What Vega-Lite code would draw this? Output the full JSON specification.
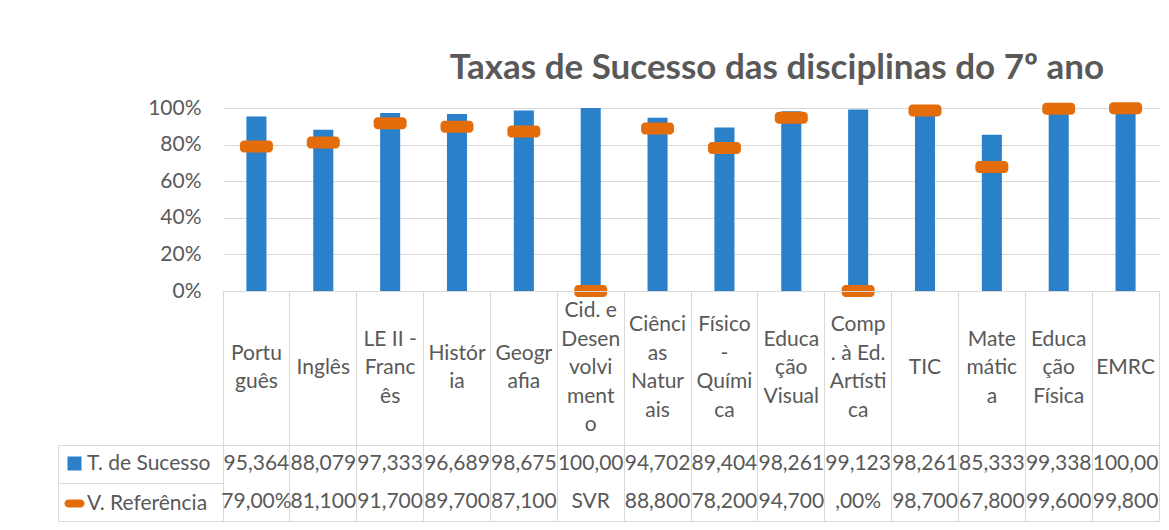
{
  "$schema": "https://vega.github.io/schema/vega-lite/v6.json",
  "padding": {"left": 57, "top": 51, "right": 5, "bottom": 5},
  "background": "white",
  "config": {"font": "Lato", "view": {"stroke": "#d9d9d9", "strokeWidth": 1}},
  "datasets": {
    "disc": [
      {"cat": "Português", "rotulo": "Portu\nguês", "suc": 95.364, "ref": 79.0, "suc_txt": "95,364", "ref_txt": "79,00%"},
      {"cat": "Inglês", "rotulo": "Inglês", "suc": 88.079, "ref": 81.1, "suc_txt": "88,079", "ref_txt": "81,100"},
      {"cat": "LE II - Francês", "rotulo": "LE II -\nFranc\nês", "suc": 97.333, "ref": 91.7, "suc_txt": "97,333", "ref_txt": "91,700"},
      {"cat": "História", "rotulo": "Histór\nia", "suc": 96.689, "ref": 89.7, "suc_txt": "96,689", "ref_txt": "89,700"},
      {"cat": "Geografia", "rotulo": "Geogr\nafia", "suc": 98.675, "ref": 87.1, "suc_txt": "98,675", "ref_txt": "87,100"},
      {"cat": "Cid. e Desenvolvimento", "rotulo": "Cid. e\nDesen\nvolvi\nment\no", "suc": 100.0, "ref": 0, "suc_txt": "100,00", "ref_txt": "SVR"},
      {"cat": "Ciências Naturais", "rotulo": "Ciênci\nas\nNatur\nais", "suc": 94.702, "ref": 88.8, "suc_txt": "94,702", "ref_txt": "88,800"},
      {"cat": "Físico-Química", "rotulo": "Físico\n-\nQuími\nca", "suc": 89.404, "ref": 78.2, "suc_txt": "89,404", "ref_txt": "78,200"},
      {"cat": "Educação Visual", "rotulo": "Educa\nção\nVisual", "suc": 98.261, "ref": 94.7, "suc_txt": "98,261", "ref_txt": "94,700"},
      {"cat": "Comp. à Ed. Artística", "rotulo": "Comp\n. à Ed.\nArtísti\nca", "suc": 99.123, "ref": 0, "suc_txt": "99,123", "ref_txt": ",00%"},
      {"cat": "TIC", "rotulo": "TIC", "suc": 98.261, "ref": 98.7, "suc_txt": "98,261", "ref_txt": "98,700"},
      {"cat": "Matemática", "rotulo": "Mate\nmátic\na", "suc": 85.333, "ref": 67.8, "suc_txt": "85,333", "ref_txt": "67,800"},
      {"cat": "Educação Física", "rotulo": "Educa\nção\nFísica", "suc": 99.338, "ref": 99.6, "suc_txt": "99,338", "ref_txt": "99,600"},
      {"cat": "EMRC", "rotulo": "EMRC", "suc": 100.0, "ref": 99.8, "suc_txt": "100,00", "ref_txt": "99,800"}
    ]
  },
  "spacing": 0,
  "bounds": "flush",
  "vconcat": [
    {
      "width": 936,
      "height": 183,
      "data": {"name": "disc"},
      "title": {"text": "Taxas de Sucesso das disciplinas do 7º ano", "font": "Lato", "fontSize": 35, "fontWeight": "bold", "color": "#595959", "anchor": "middle", "frame": "group", "dx": 86, "offset": 11},
      "view": {"stroke": null},
      "encoding": {
        "x": {"field": "cat", "type": "nominal", "sort": null, "scale": {"type": "band", "paddingInner": 0, "paddingOuter": 0}, "axis": null}
      },
      "layer": [
        {
          "mark": {"type": "bar", "width": {"band": 0.3}},
          "encoding": {
            "y": {"field": "suc", "type": "quantitative", "scale": {"domain": [0, 100], "nice": false},
              "axis": {"tickCount": 6, "labelExpr": "datum.value + '%'", "title": null, "domain": false, "ticks": false, "grid": true, "gridColor": "#d9d9d9", "labelFontSize": 21, "labelColor": "#595959", "labelPadding": 22, "labelFont": "Lato", "labelOverlap": false, "labelBound": false, "labelFlush": false}},
            "color": {"datum": "T. de Sucesso", "type": "nominal",
              "scale": {"domain": ["T. de Sucesso", "V. Referência"], "range": ["#2B80CA", "#E46C0A"]},
              "legend": {"orient": "none", "legendX": -159, "legendY": 345, "direction": "vertical", "title": null, "padding": 0,
                "labelFont": "Lato", "labelFontSize": 21, "labelColor": "#595959", "labelOffset": 2, "rowPadding": 18, "labelLimit": 300,
                "encode": {"symbols": {"update": {
                  "shape": {"signal": "datum.value === 'T. de Sucesso' ? 'square' : 'M-0.6,-0.4H0.6A0.4,0.4 0 0 1 0.6,0.4H-0.6A0.4,0.4 0 0 1 -0.6,-0.4Z'"},
                  "size": {"signal": "datum.value === 'T. de Sucesso' ? 196 : 400"},
                  "strokeWidth": {"value": 0}
                }}}}}
          }
        },
        {
          "mark": {"type": "tick", "thickness": 12, "size": 33, "cornerRadius": 4, "opacity": 1},
          "encoding": {
            "y": {"field": "ref", "type": "quantitative",
              "axis": {"tickCount": 6, "labelExpr": "datum.value + '%'", "title": null, "domain": false, "ticks": false, "grid": true, "gridColor": "#d9d9d9", "labelFontSize": 21, "labelColor": "#595959", "labelPadding": 22, "labelFont": "Lato", "labelOverlap": false, "labelBound": false, "labelFlush": false}},
            "color": {"datum": "V. Referência", "type": "nominal"}
          }
        }
      ]
    },
    {
      "width": 936,
      "height": 154,
      "data": {"name": "disc"},
      "encoding": {
        "x": {"field": "cat", "type": "nominal",
          "scale": {"type": "band", "paddingInner": 0, "paddingOuter": 0, "domain": ["Português", "Inglês", "LE II - Francês", "História", "Geografia", "Cid. e Desenvolvimento", "Ciências Naturais", "Físico-Química", "Educação Visual", "Comp. à Ed. Artística", "TIC", "Matemática", "Educação Física", "EMRC"]},
          "axis": {"orient": "top", "labels": false, "ticks": false, "domain": false, "grid": true, "bandPosition": 0, "gridColor": "#d9d9d9", "title": null}},
        "y": {"datum": "cabeçalho", "type": "nominal", "scale": {"type": "band", "paddingInner": 0, "paddingOuter": 0},
          "axis": {"orient": "left", "offset": 165, "tickSize": -165, "bandPosition": 1, "labels": false, "domain": false, "grid": false, "title": null, "tickColor": "#d9d9d9"}},
        "text": {"field": "rotulo"}
      },
      "layer": [
        {"transform": [{"filter": "split(datum.rotulo, '\\n').length == 1"}],
         "mark": {"type": "text", "lineBreak": "\n", "lineHeight": 28.5, "fontSize": 21, "color": "#595959", "baseline": "middle", "align": "center", "font": "Lato", "dy": 0}},
        {"transform": [{"filter": "split(datum.rotulo, '\\n').length == 2"}],
         "mark": {"type": "text", "lineBreak": "\n", "lineHeight": 28.5, "fontSize": 21, "color": "#595959", "baseline": "middle", "align": "center", "font": "Lato", "dy": -14.25}},
        {"transform": [{"filter": "split(datum.rotulo, '\\n').length == 3"}],
         "mark": {"type": "text", "lineBreak": "\n", "lineHeight": 28.5, "fontSize": 21, "color": "#595959", "baseline": "middle", "align": "center", "font": "Lato", "dy": -28.5}},
        {"transform": [{"filter": "split(datum.rotulo, '\\n').length == 4"}],
         "mark": {"type": "text", "lineBreak": "\n", "lineHeight": 28.5, "fontSize": 21, "color": "#595959", "baseline": "middle", "align": "center", "font": "Lato", "dy": -42.75}},
        {"transform": [{"filter": "split(datum.rotulo, '\\n').length == 5"}],
         "mark": {"type": "text", "lineBreak": "\n", "lineHeight": 28.5, "fontSize": 21, "color": "#595959", "baseline": "middle", "align": "center", "font": "Lato", "dy": -57}}
      ]
    },
    {
      "width": 936,
      "height": 76,
      "data": {"name": "disc"},
      "transform": [{"fold": ["suc_txt", "ref_txt"], "as": ["serie", "texto"]}],
      "mark": {"type": "text", "fontSize": 21, "color": "#595959", "baseline": "middle", "align": "center", "font": "Lato"},
      "encoding": {
        "x": {"field": "cat", "type": "nominal", "sort": null, "scale": {"type": "band", "paddingInner": 0, "paddingOuter": 0},
          "axis": {"orient": "top", "labels": false, "ticks": false, "domain": false, "grid": true, "bandPosition": 0, "gridColor": "#d9d9d9", "title": null}},
        "y": {"field": "serie", "type": "nominal", "sort": ["suc_txt", "ref_txt"], "scale": {"type": "band", "paddingInner": 0, "paddingOuter": 0},
          "axis": {"orient": "left", "offset": 165, "tickSize": -165, "bandPosition": 1, "labels": false, "domain": true, "grid": false, "title": null, "tickColor": "#d9d9d9", "domainColor": "#d9d9d9"}},
        "text": {"field": "texto"}
      }
    }
  ]
}
